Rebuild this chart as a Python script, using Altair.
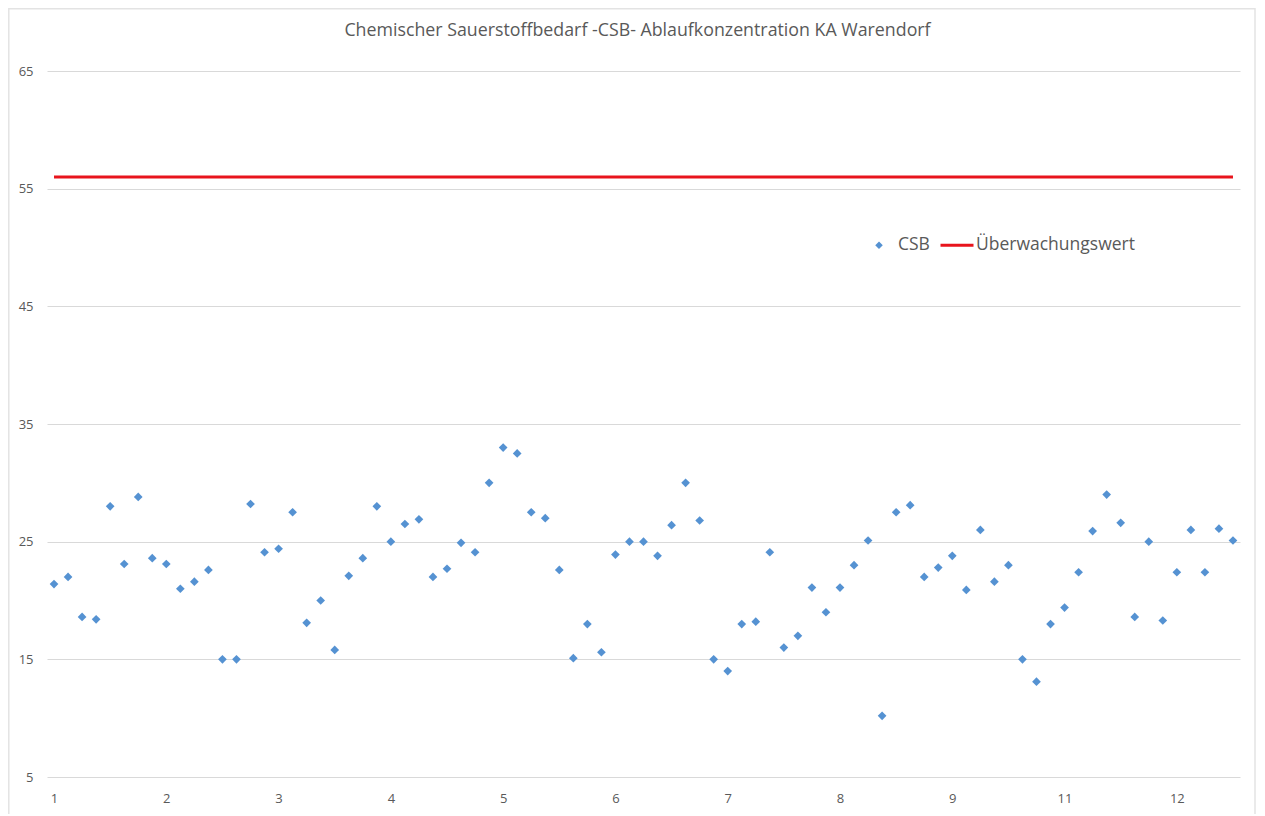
import altair as alt
import pandas as pd

# CSB values (mg/l), one per sample
csb = [21.4, 22.0, 18.6, 18.4, 28.0, 23.1, 28.8, 23.6, 23.1, 21.0,
       21.6, 22.6, 15.0, 15.0, 28.2, 24.1, 24.4, 27.5, 18.1, 20.0,
       15.8, 22.1, 23.6, 28.0, 25.0, 26.5, 26.9, 22.0, 22.7, 24.9,
       24.1, 30.0, 33.0, 32.5, 27.5, 27.0, 22.6, 15.1, 18.0, 15.6,
       23.9, 25.0, 25.0, 23.8, 26.4, 30.0, 26.8, 15.0, 14.0, 18.0,
       18.2, 24.1, 16.0, 17.0, 21.1, 19.0, 21.1, 23.0, 25.1, 10.2,
       27.5, 28.1, 22.0, 22.8, 23.8, 20.9, 26.0, 21.6, 23.0, 15.0,
       13.1, 18.0, 19.4, 22.4, 25.9, 29.0, 26.6, 18.6, 25.0, 18.3,
       22.4, 26.0, 22.4, 26.1, 25.1]
limit_value = 56
series_names = ["CSB", "Überwachungswert"]
series_colors = ["#5592d2", "#e8141c"]
tick_positions = [1, 9, 17, 25, 33, 41, 49, 57, 65, 73, 81]
tick_labels = ["1", "2", "3", "4", "5", "6", "7", "8", "9", "11", "12"]
y_ticks = [5, 15, 25, 35, 45, 55, 65]

n = len(csb)
df_pts = pd.DataFrame({"idx": list(range(1, n + 1)), "wert": csb, "serie": series_names[0]})
df_lim = pd.DataFrame({"idx": [1], "idx2": [n], "wert": [limit_value], "serie": [series_names[1]]})
df_frame = pd.DataFrame({"f": [0]})

FONT = "Open Sans"
GREY = "#595959"
W, H = 1193, 706

label_expr = ("[" + ",".join("'%s'" % t for t in tick_labels) + "][indexof(["
              + ",".join(str(p) for p in tick_positions) + "], datum.value)]")

x_scale = alt.Scale(domain=[0.5, n + 0.5], nice=False, zero=False)
y_scale = alt.Scale(domain=[5, 65], nice=False, zero=False)

color_scale = alt.Scale(domain=series_names, range=series_colors)
shape_scale = alt.Scale(domain=series_names,
                        range=["M-0.1,0L0,-0.1L0.1,0L0,0.1Z", "M-1,0H1"])

legend = alt.Legend(title=None, orient="none", legendX=814, legendY=156,
                    direction="horizontal", symbolSize=1089, symbolStrokeWidth=3,
                    labelFont=FONT, labelFontSize=17.5, labelColor=GREY,
                    labelOffset=1, columnPadding=4, symbolOpacity=1)

x_axis = alt.Axis(title=None, values=tick_positions, labelExpr=label_expr,
                  grid=False, ticks=False, domain=False, labelPadding=15,
                  labelFont=FONT, labelFontSize=13, labelColor=GREY)
y_axis = alt.Axis(title=None, values=y_ticks, grid=True, gridColor="#d9d9d9",
                  ticks=False, domain=False, labelPadding=14,
                  labelFont=FONT, labelFontSize=13, labelColor=GREY)

# faint chart-area border, as in the spreadsheet export
frame = alt.Chart(df_frame).mark_rect(fill=None, stroke="#e3e3e3", strokeWidth=1.5).encode(
    x=alt.value(-38.2), x2=alt.value(W + 15), y=alt.value(-62.2), y2=alt.value(H + 120),
)

points = alt.Chart(df_pts).mark_point(filled=True, opacity=1, size=7569).encode(
    x=alt.X("idx:Q", scale=x_scale, axis=x_axis),
    y=alt.Y("wert:Q", scale=y_scale, axis=y_axis),
    color=alt.Color("serie:N", scale=color_scale, legend=legend),
    shape=alt.Shape("serie:N", scale=shape_scale, legend=legend),
)

limit = alt.Chart(df_lim).mark_rule(strokeWidth=3).encode(
    x=alt.X("idx:Q", scale=x_scale),
    x2="idx2:Q",
    y=alt.Y("wert:Q", scale=y_scale),
    color=alt.Color("serie:N", scale=color_scale, legend=legend),
)

chart = alt.layer(frame, limit, points).properties(
    width=W, height=H,
    title=alt.Title("Chemischer Sauerstoffbedarf -CSB- Ablaufkonzentration KA Warendorf",
                    font=FONT, fontSize=17.8, fontWeight="normal", color=GREY,
                    anchor="middle", offset=0, dy=32, dx=-6),
    autosize=alt.AutoSizeParams(type="none"),
    padding={"left": 39, "top": 63, "right": 17, "bottom": 37},
).configure_view(stroke=None)

chart.save("out.html", embed_options={"renderer": "svg", "actions": False})
